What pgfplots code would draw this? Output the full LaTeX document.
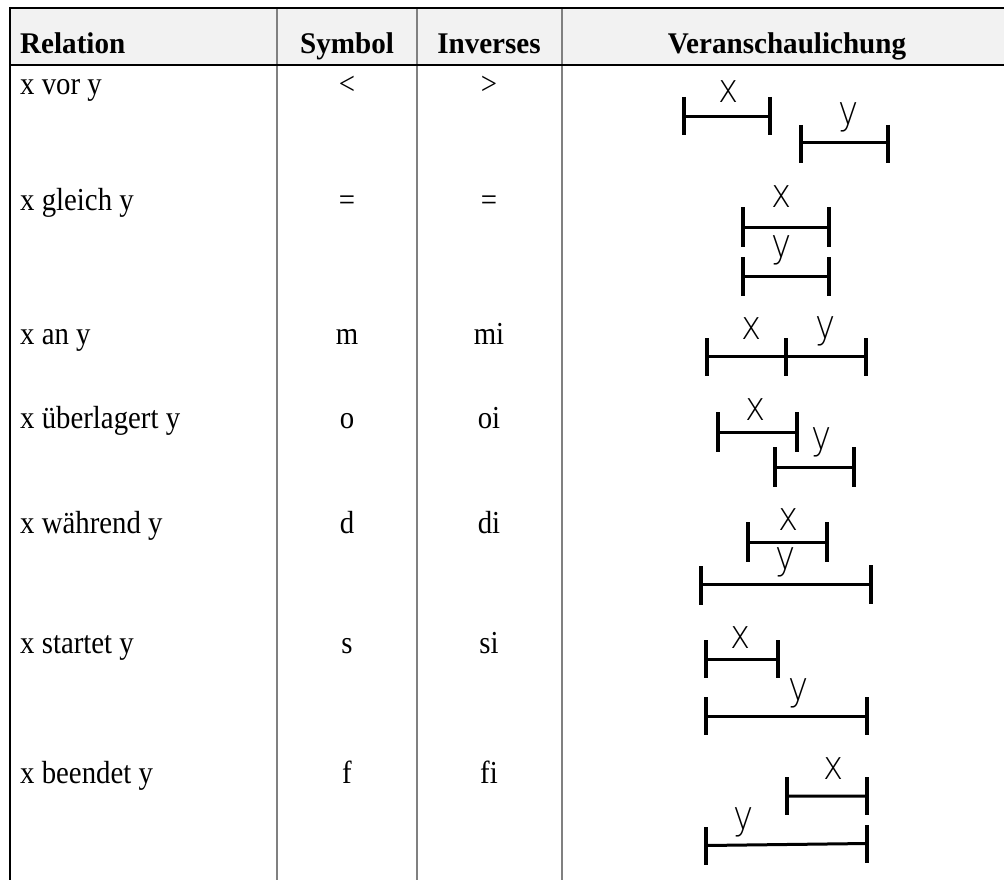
\documentclass[border=0pt]{standalone}
\usepackage{pgfplots}
\pgfplotsset{compat=1.18}
\usepackage{fontspec}
\setmainfont{Liberation Serif}
\newfontfamily\bodyf[FakeStretch=0.9]{Liberation Serif}
\newfontfamily\headf[FakeStretch=0.97]{Liberation Serif}
\newfontfamily\lab[FakeStretch=0.85]{DejaVu Sans ExtraLight}
\definecolor{hdr}{HTML}{F2F2F2}
\definecolor{sep}{HTML}{808080}
\tikzset{
  hl/.style={black, line width=3pt, line cap=butt},
  tk/.style={black, line width=4pt, line cap=butt},
  body/.style={font=\bodyf\fontsize{32}{36}\selectfont, inner sep=0pt},
  head/.style={font=\headf\fontsize{30}{34}\selectfont\bfseries, inner sep=0pt},
  lbl/.style={font=\lab\fontsize{40}{44}\selectfont, inner sep=0pt, anchor=base},
}
\begin{document}
\begin{tikzpicture}
\begin{axis}[
  scale only axis, width=1004pt, height=880pt,
  xmin=0, xmax=1004, ymin=0, ymax=880, y dir=reverse,
  hide axis, clip=false, unbounded coords=jump,
]
% header background
\addplot[fill=hdr, draw=none] coordinates {(10,8) (1004,8) (1004,66) (10,66)} -- cycle;
% grid lines
\addplot[sep, line width=1.7pt, no markers] coordinates {(277,8) (277,880) (nan,nan) (417,8) (417,880) (nan,nan) (562,8) (562,880)};
\addplot[black, line width=2pt, no markers] coordinates {(9,8) (1004,8) (nan,nan) (9,65.5) (1004,65.5) (nan,nan) (10,7) (10,880)};
% headers
\node[head, anchor=base west] at (axis cs:20,54) {Relation};
\node[head, anchor=base] at (axis cs:347,54) {Symbol};
\node[head, anchor=base] at (axis cs:489,54) {Inverses};
\node[head, anchor=base] at (axis cs:787,54) {Veranschaulichung};
% body text
\node[body, anchor=base west] at (axis cs:20,95) {x vor y};
\node[body, anchor=base west] at (axis cs:20,210) {x gleich y};
\node[body, anchor=base west] at (axis cs:20,344) {x an y};
\node[body, anchor=base west] at (axis cs:20,428) {x überlagert y};
\node[body, anchor=base west] at (axis cs:20,533) {x während y};
\node[body, anchor=base west] at (axis cs:20,653) {x startet y};
\node[body, anchor=base west] at (axis cs:20,783) {x beendet y};
\node[body, anchor=base] at (axis cs:347,95) {<};
\node[body, anchor=base] at (axis cs:489,95) {>};
\node[body, anchor=base] at (axis cs:347,210) {=};
\node[body, anchor=base] at (axis cs:489,210) {=};
\node[body, anchor=base] at (axis cs:347,344) {m};
\node[body, anchor=base] at (axis cs:489,344) {mi};
\node[body, anchor=base] at (axis cs:347,428) {o};
\node[body, anchor=base] at (axis cs:489,428) {oi};
\node[body, anchor=base] at (axis cs:347,533) {d};
\node[body, anchor=base] at (axis cs:489,533) {di};
\node[body, anchor=base] at (axis cs:347,653) {s};
\node[body, anchor=base] at (axis cs:489,653) {si};
\node[body, anchor=base] at (axis cs:347,783) {f};
\node[body, anchor=base] at (axis cs:489,783) {fi};
% intervals: horizontal lines
\addplot[hl, no markers] coordinates {(683,117) (770,117) (nan,nan) (801,143) (888,143)};
\addplot[hl, no markers] coordinates {(743,227) (829,227) (nan,nan) (743,276) (829,276)};
\addplot[hl, no markers] coordinates {(707,356) (866,356)};
\addplot[hl, no markers] coordinates {(718,432) (797,432) (nan,nan) (775,467) (854,467)};
\addplot[hl, no markers] coordinates {(748,542) (827,542) (nan,nan) (701,584) (871,584)};
\addplot[hl, no markers] coordinates {(706,659) (778,659) (nan,nan) (706,716) (867,716)};
\addplot[hl, no markers] coordinates {(787,796) (867,796) (nan,nan) (706,845.5) (867,843.5)};
% intervals: end ticks
\addplot[tk, no markers] coordinates {(684,97) (684,135) (nan,nan) (770,97) (770,135) (nan,nan) (801,125) (801,163) (nan,nan) (888,125) (888,163)};
\addplot[tk, no markers] coordinates {(743,207) (743,247) (nan,nan) (829,207) (829,247) (nan,nan) (743,257) (743,296) (nan,nan) (829,257) (829,296)};
\addplot[tk, no markers] coordinates {(707,338) (707,376) (nan,nan) (786,338) (786,376) (nan,nan) (866,338) (866,376)};
\addplot[tk, no markers] coordinates {(718,412) (718,452) (nan,nan) (797,412) (797,452) (nan,nan) (775,447) (775,487) (nan,nan) (854,447) (854,487)};
\addplot[tk, no markers] coordinates {(748,522) (748,562) (nan,nan) (827,522) (827,562) (nan,nan) (701,566) (701,605) (nan,nan) (871,565) (871,604)};
\addplot[tk, no markers] coordinates {(706,640) (706,678) (nan,nan) (778,640) (778,678) (nan,nan) (706,697) (706,735) (nan,nan) (867,697) (867,735)};
\addplot[tk, no markers] coordinates {(787,777) (787,815) (nan,nan) (867,777) (867,815) (nan,nan) (706,827) (706,865) (nan,nan) (867,825) (867,863)};
% labels
\node[lbl] at (axis cs:729,103) {x};
\node[lbl] at (axis cs:849,125) {y};
\node[lbl] at (axis cs:782,207) {x};
\node[lbl] at (axis cs:782,257) {y};
\node[lbl] at (axis cs:752,339) {x};
\node[lbl] at (axis cs:826,338) {y};
\node[lbl] at (axis cs:756,420) {x};
\node[lbl] at (axis cs:822,449) {y};
\node[lbl] at (axis cs:789,530) {x};
\node[lbl] at (axis cs:786,569) {y};
\node[lbl] at (axis cs:741,648) {x};
\node[lbl] at (axis cs:799,700) {y};
\node[lbl] at (axis cs:834,779) {x};
\node[lbl] at (axis cs:744,829) {y};
\end{axis}
\pgfresetboundingbox
\useasboundingbox (current axis.south west) rectangle (current axis.north east);
\end{tikzpicture}
\end{document}
